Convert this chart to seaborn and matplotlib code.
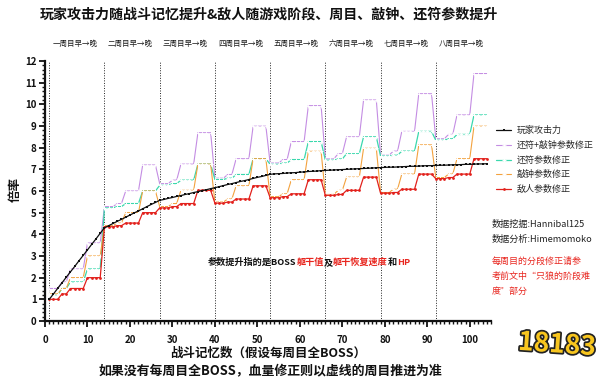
import matplotlib
matplotlib.use("Agg")
import matplotlib.pyplot as plt
import matplotlib.patheffects as pe
from matplotlib.ticker import MultipleLocator
import seaborn as sns

# ---------------- data ----------------
memory = list(range(1, 105))

player_attack = [
    1.00, 1.25, 1.51, 1.76, 2.02, 2.27, 2.52, 2.78, 3.03, 3.28, 3.54, 3.79, 4.05,
    4.30, 4.40, 4.50, 4.60, 4.69, 4.79, 4.89, 4.99, 5.08, 5.18, 5.28, 5.38, 5.47,
    5.57, 5.61, 5.66, 5.70, 5.75, 5.79, 5.84, 5.88, 5.93, 5.97, 6.02, 6.06, 6.11,
    6.15, 6.20, 6.25, 6.30, 6.34, 6.39, 6.44, 6.48, 6.53, 6.58, 6.63, 6.67, 6.72,
    6.77, 6.79, 6.80, 6.81, 6.83, 6.84, 6.85, 6.87, 6.88, 6.90, 6.91, 6.92, 6.94,
    6.95, 6.96, 6.97, 6.98, 6.99, 7.00, 7.01, 7.02, 7.03, 7.04, 7.05, 7.06, 7.07,
    7.08, 7.09, 7.10, 7.10, 7.11, 7.12, 7.13, 7.14, 7.14, 7.15, 7.16, 7.17, 7.17,
    7.18, 7.19, 7.19, 7.20, 7.21, 7.21, 7.22, 7.23, 7.23, 7.24, 7.25, 7.25, 7.26,
]

charm_bell = [
    1.50, 1.50, 1.50, 1.80, 1.80, 2.40, 2.40, 2.40, 2.40, 3.60, 3.60, 3.60, 3.60,
    5.28, 5.28, 5.28, 5.42, 5.42, 6.00, 6.00, 6.00, 6.00, 7.20, 7.20, 7.20, 7.20,
    6.34, 6.34, 6.34, 6.50, 6.50, 7.24, 7.24, 7.24, 7.24, 8.69, 8.69, 8.69, 8.69,
    6.59, 6.59, 6.59, 6.76, 6.76, 7.49, 7.49, 7.49, 7.49, 8.99, 8.99, 8.99, 8.99,
    7.29, 7.29, 7.29, 7.45, 7.45, 8.28, 8.28, 8.28, 8.28, 9.94, 9.94, 9.94, 9.94,
    7.48, 7.48, 7.48, 7.72, 7.72, 8.50, 8.50, 8.50, 8.50, 10.20, 10.20, 10.20, 10.20,
    7.65, 7.65, 7.65, 7.84, 7.84, 8.75, 8.75, 8.75, 8.75, 10.49, 10.49, 10.49, 10.49,
    8.41, 8.41, 8.41, 8.61, 8.61, 9.51, 9.51, 9.51, 9.51, 11.42, 11.42, 11.42, 11.42,
]

charm = [
    1.20, 1.20, 1.20, 1.50, 1.50, 1.80, 1.80, 1.80, 1.80, 2.40, 2.40, 2.40, 2.40,
    5.22, 5.22, 5.22, 5.28, 5.28, 5.42, 5.42, 5.42, 5.42, 6.00, 6.00, 6.00, 6.00,
    6.26, 6.26, 6.26, 6.34, 6.34, 6.50, 6.50, 6.50, 6.50, 7.24, 7.24, 7.24, 7.24,
    6.53, 6.53, 6.53, 6.59, 6.59, 6.76, 6.76, 6.76, 6.76, 7.49, 7.49, 7.49, 7.49,
    7.23, 7.23, 7.23, 7.29, 7.29, 7.45, 7.45, 7.45, 7.45, 8.28, 8.28, 8.28, 8.28,
    7.42, 7.42, 7.42, 7.48, 7.48, 7.72, 7.72, 7.72, 7.72, 8.50, 8.50, 8.50, 8.50,
    7.61, 7.61, 7.61, 7.65, 7.65, 7.84, 7.84, 7.84, 7.84, 8.75, 8.75, 8.75, 8.75,
    8.34, 8.34, 8.34, 8.41, 8.41, 8.61, 8.61, 8.61, 8.61, 9.51, 9.51, 9.51, 9.51,
]

bell = [
    1.25, 1.25, 1.25, 1.50, 1.50, 2.00, 2.00, 2.00, 2.00, 3.00, 3.00, 3.00, 3.00,
    4.40, 4.40, 4.40, 4.52, 4.52, 5.00, 5.00, 5.00, 5.00, 6.00, 6.00, 6.00, 6.00,
    5.28, 5.28, 5.28, 5.42, 5.42, 6.03, 6.03, 6.03, 6.03, 7.24, 7.24, 7.24, 7.24,
    5.49, 5.49, 5.49, 5.63, 5.63, 6.24, 6.24, 6.24, 6.24, 7.49, 7.49, 7.49, 7.49,
    5.74, 5.74, 5.74, 5.87, 5.87, 6.52, 6.52, 6.52, 6.52, 7.83, 7.83, 7.83, 7.83,
    5.84, 5.84, 5.84, 6.03, 6.03, 6.64, 6.64, 6.64, 6.64, 7.97, 7.97, 7.97, 7.97,
    5.93, 5.93, 5.93, 6.08, 6.08, 6.78, 6.78, 6.78, 6.78, 8.13, 8.13, 8.13, 8.13,
    6.62, 6.62, 6.62, 6.78, 6.78, 7.49, 7.49, 7.49, 7.49, 8.99, 8.99, 8.99, 8.99,
]

enemy = [
    1.00, 1.00, 1.00, 1.25, 1.25, 1.50, 1.50, 1.50, 1.50, 2.00, 2.00, 2.00, 2.00,
    4.35, 4.35, 4.35, 4.40, 4.40, 4.52, 4.52, 4.52, 4.52, 5.00, 5.00, 5.00, 5.00,
    5.22, 5.22, 5.22, 5.28, 5.28, 5.42, 5.42, 5.42, 5.42, 6.03, 6.03, 6.03, 6.03,
    5.44, 5.44, 5.44, 5.49, 5.49, 5.63, 5.63, 5.63, 5.63, 6.24, 6.24, 6.24, 6.24,
    5.69, 5.69, 5.69, 5.74, 5.74, 5.87, 5.87, 5.87, 5.87, 6.52, 6.52, 6.52, 6.52,
    5.80, 5.80, 5.80, 5.84, 5.84, 6.03, 6.03, 6.03, 6.03, 6.64, 6.64, 6.64, 6.64,
    5.90, 5.90, 5.90, 5.93, 5.93, 6.08, 6.08, 6.08, 6.08, 6.78, 6.78, 6.78, 6.78,
    6.57, 6.57, 6.57, 6.62, 6.62, 6.78, 6.78, 6.78, 6.78, 7.49, 7.49, 7.49, 7.49,
]

cycle_starts = [1, 14, 27, 40, 53, 66, 79, 92]
cycle_centers = [7, 20, 33, 46, 59, 72, 85, 98]
cycle_labels = ["一周目早→晚", "二周目早→晚", "三周目早→晚", "四周目早→晚",
                "五周目早→晚", "六周目早→晚", "七周目早→晚", "八周目早→晚"]

series_names = ["玩家攻击力", "还符+敲钟参数修正", "还符参数修正", "敲钟参数修正", "敌人参数修正"]
x_ticks = [0, 10, 20, 30, 40, 50, 60, 70, 80, 90, 100]
y_ticks = [0, 1, 2, 3, 4, 5, 6, 7, 8, 9, 10, 11, 12]

title = "玩家攻击力随战斗记忆提升&敌人随游戏阶段、周目、敲钟、还符参数提升"
xlabel1 = "战斗记忆数（假设每周目全BOSS）"
xlabel2 = "如果没有每周目全BOSS，血量修正则以虚线的周目推进为准"
ylabel = "倍率"

# ---------------- style ----------------
sns.set_style("ticks")
plt.rcParams['font.family'] = ['Noto Sans CJK SC', 'DejaVu Sans']
plt.rcParams['axes.unicode_minus'] = False

C_PURPLE = "#c48de3"
C_GREEN = "#3ad8ad"
C_ORANGE = "#f3a23e"
C_RED = "#e2211c"
C_BLACK = "#111111"
TXT_RED = "#e8261f"

fig = plt.figure(figsize=(6, 3.82), dpi=100)
ax = fig.add_axes([45 / 600, 1 - 321 / 382, (491 - 45) / 600, 260 / 382])

for xs in cycle_starts:
    ax.axvline(xs, color="#222222", lw=0.7, linestyle=(0, (1, 1.6)), zorder=1)

sns.lineplot(x=memory, y=charm_bell, ax=ax, color=C_PURPLE, lw=0.8,
             marker="+", markersize=2.5, markeredgewidth=0.6, label=series_names[1], zorder=3)
sns.lineplot(x=memory, y=charm, ax=ax, color=C_GREEN, lw=0.9,
             marker="+", markersize=2.5, markeredgewidth=0.7, label=series_names[2], zorder=3)
sns.lineplot(x=memory, y=bell, ax=ax, color=C_ORANGE, lw=0.8,
             marker="+", markersize=2.5, markeredgewidth=0.7, label=series_names[3], zorder=3)
sns.lineplot(x=memory, y=enemy, ax=ax, color=C_RED, lw=0.9,
             marker="o", markersize=2.0, markeredgewidth=0, label=series_names[4], zorder=4)
sns.lineplot(x=memory, y=player_attack, ax=ax, color=C_BLACK, lw=0.9,
             marker="s", markersize=1.6, markeredgewidth=0, label=series_names[0], zorder=5)

ax.set_xlim(0, 105)
ax.set_ylim(0, 12)
ax.set_xticks(x_ticks)
ax.set_yticks(y_ticks)
ax.xaxis.set_minor_locator(MultipleLocator(1))
ax.yaxis.set_minor_locator(MultipleLocator(0.2))
ax.tick_params(axis="both", which="major", direction="out", length=4, width=1.3,
               labelsize=7, pad=6, colors="#111111")
ax.tick_params(axis="both", which="minor", direction="out", length=2.5, width=1.0,
               colors="#111111")
for lab in ax.get_xticklabels() + ax.get_yticklabels():
    lab.set_fontweight("bold")
ax.tick_params(axis="y", pad=2)
for s in ["top", "right"]:
    ax.spines[s].set_visible(False)
for s in ["left", "bottom"]:
    ax.spines[s].set_linewidth(1.6)
    ax.spines[s].set_color("#111111")
ax.set_xlabel("")
ax.set_ylabel("")

# legend
ax.get_legend().remove()
handles, labels = ax.get_legend_handles_labels()
order = [labels.index(n) for n in series_names]
fig.legend([handles[i] for i in order], [labels[i] for i in order],
           loc="upper left", bbox_to_anchor=(496 / 600, 1 - 126 / 382),
           frameon=False, fontsize=6.5, handlelength=1.7, handletextpad=0.6,
           labelspacing=0.62, borderpad=0, borderaxespad=0)

# cycle labels on top
for cx, cl in zip(cycle_centers, cycle_labels):
    ax.text(cx, 1.065, cl, transform=ax.get_xaxis_transform(), ha="center",
            va="center", fontsize=5.4, color="#1a1a1a", fontweight="medium")

# titles and labels
fig.text(40 / 600, 1 - 15 / 382, title, fontsize=10.1, fontweight="bold",
         va="center", ha="left", color="#111111")
fig.text(15 / 600, 1 - 190 / 382, ylabel, rotation=90, fontsize=9,
         fontweight="bold", va="center", ha="center", color="#111111")
fig.text(268 / 600, 1 - 353 / 382, xlabel1, fontsize=9, ha="center", va="center",
         color="#111111", fontweight="bold")
fig.text(270 / 600, 1 - 371 / 382, xlabel2, fontsize=9.3, ha="center", va="center",
         color="#111111", fontweight="bold")

# annotation with mixed colours, placed piece by piece on one baseline
pieces = [("参数提升指的是BOSS", "#111111"), ("躯干值", TXT_RED), ("及", "#111111"),
          ("躯干恢复速度", TXT_RED), ("和", "#111111"), ("HP", TXT_RED)]
renderer = fig.canvas.get_renderer()
x_px = 208.0
y_fig = 1 - 265 / 382
for txt, col in pieces:
    t = fig.text(x_px / 600, y_fig, txt, fontsize=6.6, fontweight="bold",
                 color=col, ha="left", va="baseline")
    bb = t.get_window_extent(renderer=renderer)
    x_px += bb.width

# right-hand notes
fig.text(492 / 600, 1 - 224 / 382, "数据挖掘:Hannibal125", fontsize=6.6,
         ha="left", va="center", color="#222222")
fig.text(492 / 600, 1 - 239 / 382, "数据分析:Himemomoko", fontsize=6.6,
         ha="left", va="center", color="#222222")
for i, line in enumerate(["每周目的分段修正请参", "考前文中“只狼的阶段难", "度”部分"]):
    fig.text(492 / 600, 1 - (261 + 15 * i) / 382, line, fontsize=6.5,
             ha="left", va="center", color=TXT_RED)

# watermark logo approximation
fig.text(557 / 600, 1 - 345 / 382, "18183", fontsize=19, fontweight="heavy",
         ha="center", va="center", color="#f7c51e", rotation=-4,
         path_effects=[pe.withStroke(linewidth=2.5, foreground="#222222")])

fig.savefig("out.png", dpi=100)
